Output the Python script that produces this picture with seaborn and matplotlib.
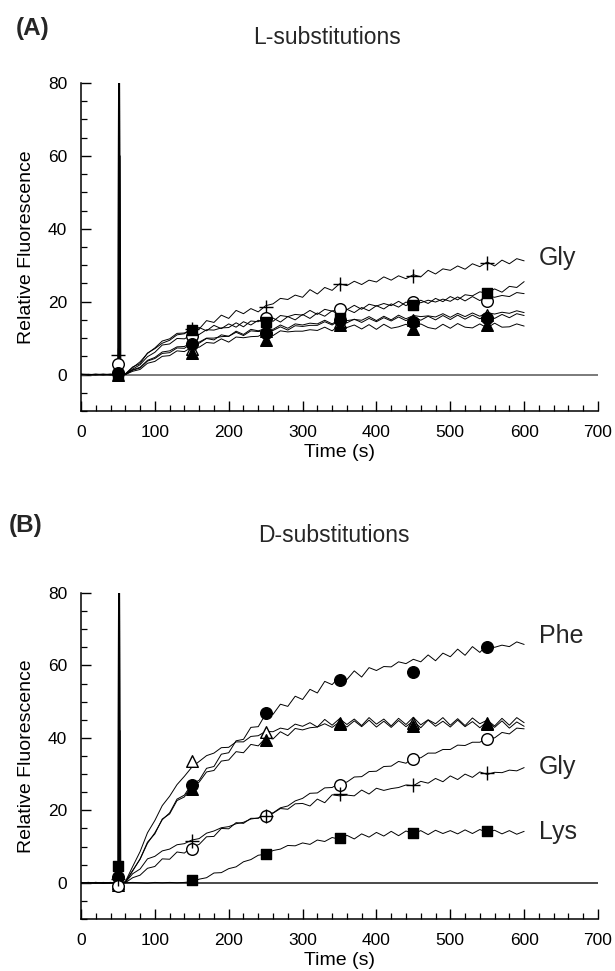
import numpy as np
import pandas as pd
import matplotlib
matplotlib.use("Agg")
import matplotlib.pyplot as plt
from matplotlib.ticker import MultipleLocator
import seaborn as sns

sns.set_theme(style="ticks")
plt.rcParams['font.family'] = ['Liberation Sans', 'DejaVu Sans']

# ---------------- data ----------------
T_PRE = [0, 10, 20, 30, 40, 50, 51, 52, 53, 54]
T_MAIN = [60, 70, 80, 90, 100, 110, 120, 130, 140, 150, 160, 170, 180, 190, 200,
          210, 220, 230, 240, 250, 260, 270, 280, 290, 300, 310, 320, 330, 340, 350,
          360, 370, 380, 390, 400, 410, 420, 430, 440, 450, 460, 470, 480, 490, 500,
          510, 520, 530, 540, 550, 560, 570, 580, 590, 600]
TIME = T_PRE + T_MAIN
MARK_T = [50, 150, 250, 350, 450, 550]

# Panel A : L-substitutions
A_gly = [0.1, -0.2, 0.0, 0.1, -0.1, 0.0, 0.2, 100, 0.1, 0.0,
         0.2, 2.1, 3.0, 5.9, 7.1, 8.6, 9.4, 10.9, 11.2, 12.6, 12.5, 14.8, 14.3, 16.3, 15.4,
         17.6, 16.7, 18.1, 17.2, 18.9, 19.4, 20.9, 20.6, 21.8, 21.2, 23.3, 22.1, 23.9, 23.1, 24.9,
         24.4, 25.6, 24.7, 25.9, 25.4, 26.8, 25.9, 27.1, 26.3, 27.4, 26.8, 28.6, 27.6, 29.0, 28.6,
         29.8, 28.9, 30.4, 29.6, 30.9, 29.8, 31.4, 30.4, 31.8, 31.2]
A_sq = [0.0, 0.1, -0.1, 0.0, 0.1, 0.0, 100, 0.1, 0.0, 0.1,
        0.1, 1.9, 3.5, 5.8, 7.3, 9.2, 9.8, 11.3, 11.4, 12.4, 12.9, 12.0, 13.5, 12.6, 13.9,
        13.0, 14.5, 13.6, 14.9, 14.1, 15.5, 14.4, 15.9, 15.0, 16.5, 15.4, 16.9, 16.0, 17.5, 16.3,
        17.9, 17.0, 18.4, 17.5, 18.9, 18.0, 19.4, 18.5, 19.9, 19.0, 20.4, 19.5, 20.9, 20.0, 21.4,
        20.5, 21.9, 21.6, 22.7, 22.3, 23.5, 22.6, 24.2, 23.9, 25.5]
A_oc = [-0.1, 0.0, 0.1, -0.1, 0.0, 0.1, 0.0, 100, 0.1, 0.0,
        0.0, 1.5, 2.7, 4.9, 6.1, 8.1, 8.4, 9.9, 9.8, 10.9, 11.0, 12.3, 12.2, 12.8, 12.9,
        14.2, 13.1, 14.7, 14.5, 15.7, 14.6, 16.2, 15.9, 16.5, 16.3, 17.6, 16.5, 17.9, 17.4, 18.0,
        17.8, 19.0, 17.9, 19.3, 18.8, 19.5, 18.9, 20.1, 18.9, 20.2, 19.7, 20.4, 19.9, 20.7, 20.1,
        21.3, 20.2, 21.4, 20.3, 21.6, 21.2, 21.7, 21.4, 22.5, 22.2]
A_ot = [0.1, 0.0, -0.1, 0.1, 0.0, -0.1, 0.0, 0.1, 60, 0.0,
        0.0, 1.2, 1.8, 3.7, 4.4, 5.8, 6.0, 7.3, 7.2, 8.6, 8.6, 9.9, 9.5, 10.9, 10.5,
        11.9, 11.0, 12.4, 12.0, 12.6, 12.4, 13.6, 12.7, 13.9, 13.6, 14.1, 13.9, 14.9, 13.9, 15.1,
        14.8, 15.1, 14.9, 15.9, 14.8, 16.0, 15.0, 16.3, 15.3, 16.2, 15.9, 16.1, 15.8, 16.7, 15.7,
        16.8, 15.9, 16.9, 16.0, 17.0, 16.6, 17.1, 16.8, 17.5, 17.0]
A_fc = [0.0, -0.1, 0.1, 0.0, -0.1, 0.0, 100, 0.0, 0.1, 0.0,
        0.0, 1.3, 2.0, 3.9, 4.7, 6.2, 6.5, 7.6, 7.7, 8.8, 8.9, 10.0, 10.0, 10.4, 10.5,
        11.6, 10.7, 12.0, 11.8, 12.1, 12.1, 13.1, 12.2, 13.4, 13.2, 13.5, 13.5, 14.5, 13.6, 14.8,
        14.2, 15.2, 14.3, 15.4, 14.5, 15.6, 14.7, 15.8, 14.8, 15.9, 14.9, 16.0, 15.0, 16.2, 15.1,
        16.3, 15.2, 16.3, 15.3, 16.4, 15.4, 16.5, 15.6, 16.7, 16.2]
A_ft = [0.1, 0.0, 0.0, -0.1, 0.1, 0.0, 0.1, 100, 0.0, 0.1,
        0.0, 0.9, 1.4, 3.1, 3.6, 5.0, 5.2, 6.5, 6.3, 7.5, 7.5, 8.8, 8.6, 9.8, 8.9,
        10.3, 10.1, 10.4, 10.5, 11.6, 10.7, 12.0, 11.7, 11.9, 11.9, 12.3, 12.1, 13.0, 12.0, 13.5,
        12.9, 13.6, 12.5, 13.7, 12.4, 13.8, 12.7, 13.1, 13.8, 12.6, 13.9, 12.9, 12.5, 13.8, 12.7,
        14.0, 13.0, 12.8, 13.9, 12.8, 14.1, 13.0, 13.1, 13.9, 13.3]

A_gly_m = [5.3, 12.5, 18.4, 24.8, 27.0, 30.5]
A_sq_m = [0.0, 12.2, 14.5, 15.5, 19.0, 22.5]
A_oc_m = [3.0, 10.5, 15.4, 17.9, 19.9, 20.3]
A_ot_m = [2.0, 7.0, 12.0, 14.5, 15.0, 16.3]
A_fc_m = [0.5, 8.3, 11.5, 15.0, 14.5, 15.5]
A_ft_m = [0.0, 5.8, 9.4, 13.6, 12.6, 13.6]

# Panel B : D-substitutions
B_phe = [0.0, 0.1, -0.1, 0.0, 0.1, 0.0, 100, 0.1, 0.0, 0.1,
         0.2, 3.4, 6.5, 10.9, 13.8, 17.4, 19.3, 23.1, 24.2, 27.3, 28.3, 31.6, 32.1, 35.5, 35.9,
         39.2, 39.6, 42.9, 43.1, 46.6, 46.5, 49.3, 48.7, 51.5, 50.6, 53.4, 52.4, 55.6, 54.7, 56.9,
         56.1, 58.5, 56.8, 59.4, 58.6, 59.7, 59.6, 61.0, 60.5, 61.7, 61.0, 62.9, 61.3, 63.4, 62.4,
         64.5, 62.8, 65.2, 63.6, 65.7, 65.0, 65.6, 65.2, 66.5, 65.8]
B_ot = [0.1, 0.0, 0.1, -0.1, 0.0, 0.1, 0.0, 100, 0.1, 0.0,
        0.3, 4.5, 8.6, 13.8, 17.2, 21.3, 23.9, 27.1, 29.4, 31.9, 33.5, 35.1, 35.8, 37.3, 37.4,
        38.9, 38.9, 40.4, 40.6, 41.8, 41.7, 42.7, 42.3, 43.8, 43.2, 44.2, 43.0, 45.1, 43.5, 45.3,
        43.7, 45.2, 43.4, 45.6, 43.8, 45.2, 43.3, 45.4, 43.7, 45.7, 43.6, 45.0, 43.9, 45.6, 43.5,
        45.3, 43.4, 45.5, 43.9, 44.9, 43.3, 45.4, 43.5, 45.6, 44.2]
B_ft = [-0.1, 0.0, 0.1, 0.0, -0.1, 0.0, 0.1, 0.0, 42, 0.1,
        0.1, 3.3, 6.6, 11.2, 13.5, 17.6, 19.0, 22.7, 23.7, 26.9, 27.8, 30.6, 31.0, 33.6, 33.9,
        36.2, 35.9, 38.2, 37.8, 40.0, 39.7, 41.7, 40.6, 42.6, 42.2, 42.8, 43.0, 43.9, 42.9, 44.4,
        43.0, 44.7, 43.1, 44.9, 43.0, 44.6, 42.9, 44.8, 43.1, 44.7, 42.8, 44.9, 43.2, 44.6, 43.0,
        44.9, 43.1, 44.5, 42.8, 44.6, 42.9, 44.7, 42.7, 44.4, 43.2]
B_oc = [0.0, 0.1, 0.0, -0.1, 0.1, -0.2, 100, 0.0, 0.1, 0.0,
        0.0, 1.4, 2.1, 4.0, 4.5, 6.6, 6.5, 8.5, 8.2, 9.9, 10.6, 12.7, 12.8, 15.0, 14.9,
        16.6, 16.4, 17.8, 17.8, 18.9, 19.3, 20.7, 21.2, 22.6, 23.3, 24.7, 24.8, 26.2, 26.3, 27.5,
        27.8, 29.2, 29.3, 30.7, 30.8, 32.1, 32.2, 33.5, 33.0, 34.6, 34.5, 35.8, 35.8, 36.8, 36.8,
        38.0, 37.9, 38.8, 38.8, 39.9, 40.0, 41.5, 41.1, 42.7, 42.5]
B_gly = [0.1, 0.0, -0.1, 0.1, 0.0, 0.1, 0.0, 100, 0.0, 0.1,
         0.1, 2.5, 3.8, 6.6, 7.3, 8.8, 9.3, 10.5, 10.8, 11.8, 12.2, 13.7, 14.3, 15.2, 15.5,
         16.3, 16.7, 17.6, 17.9, 18.9, 19.2, 20.5, 20.3, 21.8, 21.9, 21.2, 23.1, 22.1, 24.3, 24.0,
         24.2, 24.0, 25.6, 24.5, 26.1, 25.5, 26.0, 26.3, 27.0, 26.8, 28.0, 27.5, 28.8, 27.9, 29.5,
         28.5, 30.0, 29.1, 30.6, 29.9, 30.5, 30.4, 31.1, 30.9, 31.8]
B_lys = [0.0, -0.1, 0.1, 0.0, 0.0, 0.1, 0.0, 100, 0.0, 0.0,
         0.0, 0.1, 0.0, -0.1, 0.1, 0.0, 0.1, 0.0, 0.1, 0.3, 1.0, 1.4, 2.7, 2.8, 3.9,
         4.4, 5.8, 6.4, 7.6, 7.9, 8.9, 9.3, 10.3, 10.2, 11.0, 10.6, 11.8, 11.4, 12.5, 12.0,
         13.1, 12.1, 13.5, 12.6, 13.9, 12.9, 14.2, 13.0, 14.3, 13.5, 14.4, 13.3, 14.5, 13.6, 14.4,
         13.5, 14.6, 13.6, 14.7, 13.9, 14.5, 13.5, 14.4, 13.4, 14.2]

B_phe_m = [1.5, 26.9, 46.8, 56.1, 58.1, 65.0]
B_ot_m = [-0.5, 33.6, 41.6, 44.0, 44.0, 44.0]
B_ft_m = [0.0, 26.0, 39.5, 43.8, 43.4, 43.8]
B_oc_m = [-0.8, 9.3, 18.5, 27.0, 34.2, 39.7]
B_gly_m = [1.0, 11.4, 18.5, 24.4, 27.0, 30.3]
B_lys_m = [4.6, 0.9, 8.0, 12.4, 13.7, 14.2]

# ---------------- figure ----------------
fig = plt.figure(figsize=(6.15, 9.71), dpi=100)
W, H = 615.0, 971.0
axA = fig.add_axes([81 / W, 1 - 411 / H, 517 / W, 328 / H])
axB = fig.add_axes([81 / W, 1 - 919 / H, 517 / W, 326 / H])

STYLES = {
    'sq': dict(marker='s', face='black', s=60),
    'oc': dict(marker='o', face='white', s=70),
    'fc': dict(marker='o', face='black', s=70),
    'ot': dict(marker='^', face='white', s=70),
    'ft': dict(marker='^', face='black', s=70),
}


def draw_trace(ax, vals):
    assert len(vals) == len(TIME)
    sns.lineplot(x=TIME, y=vals, ax=ax, color='black', lw=0.7,
                 estimator=None, sort=False, zorder=3)


def draw_marks(ax, vals, kind):
    if kind == 'plus':
        sns.scatterplot(x=MARK_T, y=vals, ax=ax, marker='+', s=90,
                        color='black', linewidth=1.0, zorder=5)
    else:
        st = STYLES[kind]
        sns.scatterplot(x=MARK_T, y=vals, ax=ax, marker=st['marker'], s=st['s'],
                        color=st['face'], edgecolor='black', linewidth=1.0, zorder=5)


def style_axes(ax, zero_color):
    ax.axhline(0, color=zero_color, lw=1.3, zorder=2)
    ax.set_xlim(0, 700)
    ax.set_ylim(-10, 80)
    ax.xaxis.set_major_locator(MultipleLocator(100))
    ax.xaxis.set_minor_locator(MultipleLocator(20))
    ax.yaxis.set_major_locator(MultipleLocator(20))
    ax.yaxis.set_minor_locator(MultipleLocator(5))
    ax.tick_params(which='major', direction='in', length=7, width=1.0,
                   labelsize=12.5, pad=10, color='black', labelcolor='black')
    ax.tick_params(which='minor', direction='in', length=4, width=0.9, color='black')
    for side in ['top', 'right']:
        ax.spines[side].set_visible(False)
    for side in ['left', 'bottom']:
        ax.spines[side].set_color('black')
        ax.spines[side].set_linewidth(1.1)
    ax.set_xlabel('Time (s)', fontsize=14, labelpad=3, color='black')
    ax.set_ylabel('Relative Fluorescence', fontsize=14, labelpad=9, color='black')
    ax.set_facecolor('white')


# Panel A
for vals in [A_gly, A_sq, A_oc, A_ot, A_fc, A_ft]:
    draw_trace(axA, vals)
draw_marks(axA, A_gly_m, 'plus')
draw_marks(axA, A_ot_m, 'ot')
draw_marks(axA, A_oc_m, 'oc')
draw_marks(axA, A_fc_m, 'fc')
draw_marks(axA, A_ft_m, 'ft')
draw_marks(axA, A_sq_m, 'sq')
style_axes(axA, '#707070')
axA.text(620, 32, 'Gly', fontsize=18, ha='left', va='center')

# Panel B
for vals in [B_phe, B_ot, B_ft, B_oc, B_gly, B_lys]:
    draw_trace(axB, vals)
draw_marks(axB, B_ot_m, 'ot')
draw_marks(axB, B_ft_m, 'ft')
draw_marks(axB, B_phe_m, 'fc')
draw_marks(axB, B_oc_m, 'oc')
draw_marks(axB, B_gly_m, 'plus')
draw_marks(axB, B_lys_m, 'sq')
style_axes(axB, '#3a3a3a')
axB.text(620, 68, 'Phe', fontsize=18, ha='left', va='center')
axB.text(620, 32, 'Gly', fontsize=18, ha='left', va='center')
axB.text(620, 14, 'Lys', fontsize=18, ha='left', va='center')

# titles and panel letters
fig.text(16 / W, 1 - 28 / H, '(A)', fontsize=17.5, fontweight='bold', ha='left', va='center')
fig.text(327 / W, 1 - 37 / H, 'L-substitutions', fontsize=16.5, ha='center', va='center')
fig.text(9 / W, 1 - 525 / H, '(B)', fontsize=17.5, fontweight='bold', ha='left', va='center')
fig.text(334 / W, 1 - 536 / H, 'D-substitutions', fontsize=16.5, ha='center', va='center')

fig.savefig('out.png', dpi=100, facecolor='white')
